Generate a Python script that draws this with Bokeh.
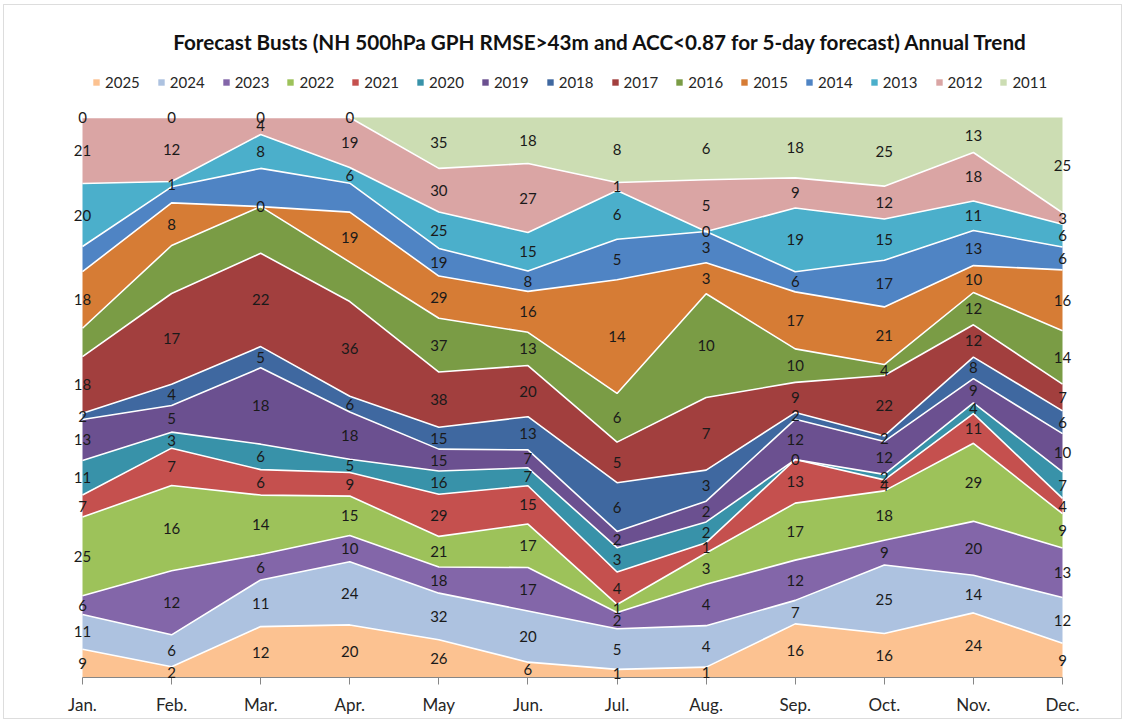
import numpy as np
from bokeh.plotting import figure
from bokeh.models import (ColumnDataSource, Legend, LegendItem, Label, FixedTicker,
                          LabelSet, BoxAnnotation)
from bokeh.transform import stack
from bokeh.core.properties import value
from bokeh.embed import file_html
from bokeh.resources import INLINE

months = ["Jan.", "Feb.", "Mar.", "Apr.", "May", "Jun.", "Jul.", "Aug.", "Sep.", "Oct.", "Nov.", "Dec."]

y2025 = [9, 2, 12, 20, 26, 6, 1, 1, 16, 16, 24, 9]
y2024 = [11, 6, 11, 24, 32, 20, 5, 4, 7, 25, 14, 12]
y2023 = [6, 12, 6, 10, 18, 17, 2, 4, 12, 9, 20, 13]
y2022 = [25, 16, 14, 15, 21, 17, 1, 3, 17, 18, 29, 9]
y2021 = [7, 7, 6, 9, 29, 15, 4, 1, 13, 4, 11, 4]
y2020 = [11, 3, 6, 5, 16, 7, 3, 2, 0, 2, 4, 7]
y2019 = [13, 5, 18, 18, 15, 7, 2, 2, 12, 12, 9, 10]
y2018 = [2, 4, 5, 6, 15, 13, 6, 3, 2, 2, 8, 6]
y2017 = [18, 17, 22, 36, 38, 20, 5, 7, 9, 22, 12, 7]
y2016 = [9, 9, 11, 15, 37, 13, 6, 10, 10, 4, 12, 14]
y2015 = [18, 8, 0, 19, 29, 16, 14, 3, 17, 21, 10, 16]
y2014 = [8, 3, 9, 11, 19, 8, 5, 3, 6, 17, 13, 6]
y2013 = [20, 1, 8, 6, 25, 15, 6, 0, 19, 15, 11, 6]
y2012 = [21, 12, 4, 19, 30, 27, 1, 5, 9, 12, 18, 3]
y2011 = [0, 0, 0, 0, 35, 18, 8, 6, 18, 25, 13, 25]

years = ["2025", "2024", "2023", "2022", "2021", "2020", "2019", "2018",
         "2017", "2016", "2015", "2014", "2013", "2012", "2011"]
series = {"2025": y2025, "2024": y2024, "2023": y2023, "2022": y2022,
          "2021": y2021, "2020": y2020, "2019": y2019, "2018": y2018,
          "2017": y2017, "2016": y2016, "2015": y2015, "2014": y2014,
          "2013": y2013, "2012": y2012, "2011": y2011}
colors = ["#FCC291", "#ADC2E0", "#8366A9", "#9DC25A", "#C5504E", "#3892A9",
          "#6B5090", "#3F68A0", "#A23F3E", "#7A9C45", "#D67C35", "#4F84C4",
          "#4BAFCB", "#DAA5A4", "#CCDDB3"]
# data labels not shown in the original chart (series, month index)
hidden_labels = {("2014", 0), ("2014", 1), ("2014", 2), ("2014", 3),
                 ("2016", 0), ("2016", 1), ("2016", 2), ("2016", 3)}

title_text = "Forecast Busts  (NH 500hPa GPH RMSE>43m and ACC<0.87 for 5-day forecast) Annual Trend"

# ---- layout (pixels inside the figure) ----
W, H = 1123, 720
PX_LEFT, PX_RIGHT = 82, 1062     # Jan / Dec positions
PX_TOP, PX_BOTTOM = 117, 677     # 100% / 0% positions
ux = (PX_RIGHT - PX_LEFT) / 11.0
uy = float(PX_BOTTOM - PX_TOP)
x_range = (-PX_LEFT / ux, 11 + (W - PX_RIGHT) / ux)
y_range = (-(H - PX_BOTTOM) / uy, 1 + PX_TOP / uy)


def dx(px):
    return (px - PX_LEFT) / ux


def dy(py):
    return 1 - (py - PX_TOP) / uy


# 100% stacked shares
xs = list(range(len(months)))
tot = np.sum([series[y] for y in years], axis=0).astype(float)
data = {"x": xs}
for y in years:
    data["s" + y] = np.array(series[y]) / tot
src = ColumnDataSource(data)

p = figure(frame_width=W, frame_height=H, x_range=x_range, y_range=y_range,
           output_backend="svg", toolbar_location=None,
           min_border_left=0, min_border_right=0, min_border_top=0, min_border_bottom=0)
p.background_fill_color = "white"
p.border_fill_color = "white"
p.outline_line_color = None
p.xgrid.visible = False
p.ygrid.visible = False
p.yaxis.visible = False

# chart-area border
p.add_layout(BoxAnnotation(left=dx(3), right=dx(W - 2), top=dy(4), bottom=dy(H - 2),
                           fill_alpha=0, line_color="#8e8e8e", line_width=1))

cols = ["s" + y for y in years]
rends = p.varea_stack(stackers=cols, x="x", color=colors, source=src)

# white separators between bands
for i in range(len(cols) - 1):
    p.line(x="x", y=stack(*cols[:i + 1]), source=src, line_color="white", line_width=1.6)

# data labels at band centres
lx, ly, lt = [], [], []
cum = np.zeros(len(months))
for y in years:
    share = data["s" + y]
    for m in range(len(months)):
        if (y, m) not in hidden_labels:
            lx.append(m)
            ly.append(cum[m] + share[m] / 2)
            lt.append(str(series[y][m]))
    cum = cum + share
lsrc = ColumnDataSource({"x": lx, "y": ly, "t": lt})
labels = LabelSet(x="x", y="y", text="t", source=lsrc, text_align="center",
                  text_baseline="middle", text_font=value("Lato"),
                  text_font_size="15px", text_color="#1a1a1a")
p.add_layout(labels)

ax = p.xaxis[0]
ax.fixed_location = 0
ax.bounds = (0, 11)
ax.ticker = FixedTicker(ticks=xs)
ax.major_label_overrides = {i: m for i, m in enumerate(months)}
ax.axis_line_color = "#868686"
ax.major_tick_line_color = "#868686"
ax.major_tick_in = 0
ax.major_tick_out = 7
ax.minor_tick_line_color = None
ax.major_label_text_font = "Lato"
ax.major_label_text_font_size = "17px"
ax.major_label_text_color = "#262626"
ax.major_label_standoff = 9

items = [LegendItem(label=y, renderers=[r]) for y, r in zip(years, rends)]
legend = Legend(items=items, orientation="horizontal", location=(92, H - 81 - 10),
                glyph_width=8, glyph_height=8, label_standoff=5, spacing=17,
                padding=0, margin=0, border_line_color=None,
                background_fill_alpha=0, label_text_font="Lato",
                label_text_font_size="15px", label_text_color="#262626")
p.add_layout(legend)

title = Label(x=dx(603), y=dy(41), text=title_text,
              text_align="center", text_baseline="middle", text_font="Lato",
              text_font_size="20.7px", text_font_style="bold", text_color="#111111")
p.add_layout(title)

open("out.html", "w").write(file_html(p, INLINE))
